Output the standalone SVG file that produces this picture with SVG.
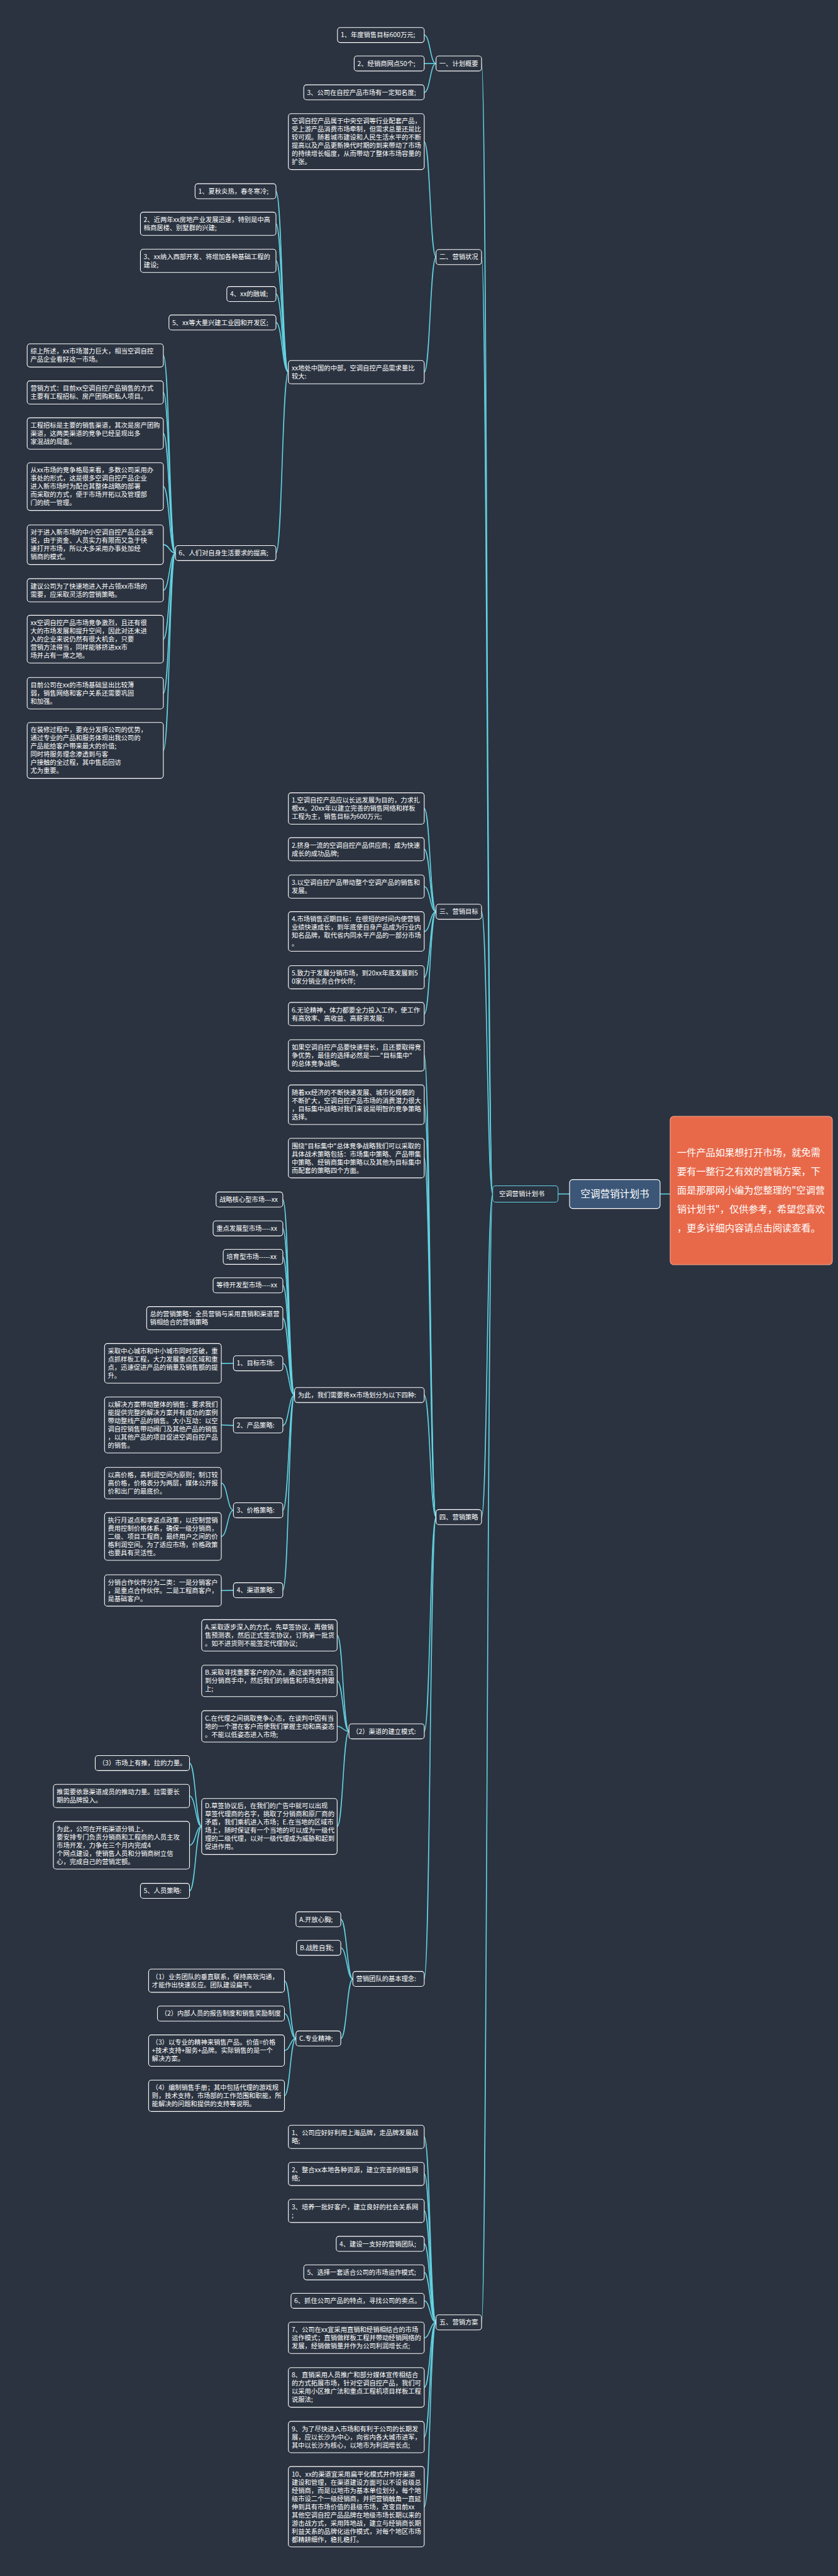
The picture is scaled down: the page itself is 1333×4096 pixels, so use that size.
<svg xmlns="http://www.w3.org/2000/svg" width="1333" height="4096" viewBox="0 0 1333 4096">
<style>
.bg{fill:#2b3340}
.n rect{fill:#2b3340;stroke:#ffffff;stroke-width:1.1}
.n text{fill:#ffffff;font-family:"Noto Sans CJK SC","Noto Sans",sans-serif;font-size:10.3px}
.c path{fill:none;stroke:#62d3e3;stroke-width:1.6}
</style>
<rect class="bg" x="0" y="0" width="1333" height="4096"/>
<g class="c" id="connectors">
<path d="M766,101 C774.9,101 774.9,1898.5 783.7,1898.5"/>
<path d="M766,408.8 C774.9,408.8 774.9,1898.5 783.7,1898.5"/>
<path d="M766,1449.7 C774.9,1449.7 774.9,1898.5 783.7,1898.5"/>
<path d="M766,2412.4 C774.9,2412.4 774.9,1898.5 783.7,1898.5"/>
<path d="M766,3692.8 C774.9,3692.8 774.9,1898.5 783.7,1898.5"/>
<path d="M887.7,1898.5 L906,1898.5"/>
<path d="M1050,1898.5 L1066,1898.5"/>
<path d="M674.8,55.7 C684.2,55.7 684.2,101 693.6,101"/>
<path d="M674.8,101 L693.6,101"/>
<path d="M674.8,146.9 C684.2,146.9 684.2,101 693.6,101"/>
<path d="M674.8,225.5 C684.2,225.5 684.2,408.8 693.6,408.8"/>
<path d="M674.8,591.7 C684.2,591.7 684.2,408.8 693.6,408.8"/>
<path d="M439,304.1 C448.9,304.1 448.9,591.7 458.7,591.7"/>
<path d="M439,355.9 C448.9,355.9 448.9,591.7 458.7,591.7"/>
<path d="M439,414.8 C448.9,414.8 448.9,591.7 458.7,591.7"/>
<path d="M439,467.6 C448.9,467.6 448.9,591.7 458.7,591.7"/>
<path d="M439,512.9 C448.9,512.9 448.9,591.7 458.7,591.7"/>
<path d="M439,879.5 C448.9,879.5 448.9,591.7 458.7,591.7"/>
<path d="M259.8,565.2 C269.5,565.2 269.5,879.5 279.1,879.5"/>
<path d="M259.8,624 C269.5,624 269.5,879.5 279.1,879.5"/>
<path d="M259.8,689.4 C269.5,689.4 269.5,879.5 279.1,879.5"/>
<path d="M259.8,773.7 C269.5,773.7 269.5,879.5 279.1,879.5"/>
<path d="M259.8,866.1 C269.5,866.1 269.5,879.5 279.1,879.5"/>
<path d="M259.8,938.5 C269.5,938.5 269.5,879.5 279.1,879.5"/>
<path d="M259.8,1016.4 C269.5,1016.4 269.5,879.5 279.1,879.5"/>
<path d="M259.8,1102.3 C269.5,1102.3 269.5,879.5 279.1,879.5"/>
<path d="M259.8,1193.1 C269.5,1193.1 269.5,879.5 279.1,879.5"/>
<path d="M674.8,1285.6 C684.2,1285.6 684.2,1449.7 693.6,1449.7"/>
<path d="M674.8,1350.3 C684.2,1350.3 684.2,1449.7 693.6,1449.7"/>
<path d="M674.8,1409.7 C684.2,1409.7 684.2,1449.7 693.6,1449.7"/>
<path d="M674.8,1481.1 C684.2,1481.1 684.2,1449.7 693.6,1449.7"/>
<path d="M674.8,1553.9 C684.2,1553.9 684.2,1449.7 693.6,1449.7"/>
<path d="M674.8,1612.3 C684.2,1612.3 684.2,1449.7 693.6,1449.7"/>
<path d="M674.8,1678.1 C684.2,1678.1 684.2,2412.4 693.6,2412.4"/>
<path d="M674.8,1756.6 C684.2,1756.6 684.2,2412.4 693.6,2412.4"/>
<path d="M674.8,1841.5 C684.2,1841.5 684.2,2412.4 693.6,2412.4"/>
<path d="M674.8,2218.2 C684.2,2218.2 684.2,2412.4 693.6,2412.4"/>
<path d="M674.8,2753 C684.2,2753 684.2,2412.4 693.6,2412.4"/>
<path d="M674.8,3146.6 C684.2,3146.6 684.2,2412.4 693.6,2412.4"/>
<path d="M449.9,1907.4 C459.3,1907.4 459.3,2218.2 468.6,2218.2"/>
<path d="M449.9,1953.2 C459.3,1953.2 459.3,2218.2 468.6,2218.2"/>
<path d="M449.9,1998.5 C459.3,1998.5 459.3,2218.2 468.6,2218.2"/>
<path d="M449.9,2043.8 C459.3,2043.8 459.3,2218.2 468.6,2218.2"/>
<path d="M449.9,2096.1 C459.3,2096.1 459.3,2218.2 468.6,2218.2"/>
<path d="M449.9,2167.7 C459.3,2167.7 459.3,2218.2 468.6,2218.2"/>
<path d="M449.9,2266.6 C459.3,2266.6 459.3,2218.2 468.6,2218.2"/>
<path d="M449.9,2401.5 C459.3,2401.5 459.3,2218.2 468.6,2218.2"/>
<path d="M449.9,2528.6 C459.3,2528.6 459.3,2218.2 468.6,2218.2"/>
<path d="M352,2167.9 L371.3,2167.7"/>
<path d="M352,2265.8 L371.3,2266.6"/>
<path d="M352,2358.3 C361.7,2358.3 361.7,2401.5 371.3,2401.5"/>
<path d="M352,2443.1 C361.7,2443.1 361.7,2401.5 371.3,2401.5"/>
<path d="M352,2529 L371.3,2528.6"/>
<path d="M536.3,2600.3 C545.7,2600.3 545.7,2753 555.1,2753"/>
<path d="M536.3,2672.7 C545.7,2672.7 545.7,2753 555.1,2753"/>
<path d="M536.3,2745 C545.7,2745 545.7,2753 555.1,2753"/>
<path d="M536.3,2904.2 C545.7,2904.2 545.7,2753 555.1,2753"/>
<path d="M301.5,2803.5 C311.2,2803.5 311.2,2904.2 320.8,2904.2"/>
<path d="M301.5,2855.7 C311.2,2855.7 311.2,2904.2 320.8,2904.2"/>
<path d="M301.5,2934 C311.2,2934 311.2,2904.2 320.8,2904.2"/>
<path d="M301.5,3006.6 C311.2,3006.6 311.2,2904.2 320.8,2904.2"/>
<path d="M542.1,3051.9 C551.7,3051.9 551.7,3146.6 561.3,3146.6"/>
<path d="M542.1,3097.2 C551.7,3097.2 551.7,3146.6 561.3,3146.6"/>
<path d="M542.1,3241.4 C551.7,3241.4 551.7,3146.6 561.3,3146.6"/>
<path d="M452.5,3149.5 C461.6,3149.5 461.6,3241.4 470.7,3241.4"/>
<path d="M452.5,3201.8 C461.6,3201.8 461.6,3241.4 470.7,3241.4"/>
<path d="M452.5,3260.5 C461.6,3260.5 461.6,3241.4 470.7,3241.4"/>
<path d="M452.5,3332.4 C461.6,3332.4 461.6,3241.4 470.7,3241.4"/>
<path d="M674.8,3397.7 C684.2,3397.7 684.2,3692.8 693.6,3692.8"/>
<path d="M674.8,3456.6 C684.2,3456.6 684.2,3692.8 693.6,3692.8"/>
<path d="M674.8,3515.4 C684.2,3515.4 684.2,3692.8 693.6,3692.8"/>
<path d="M674.8,3567.9 C684.2,3567.9 684.2,3692.8 693.6,3692.8"/>
<path d="M674.8,3613.2 C684.2,3613.2 684.2,3692.8 693.6,3692.8"/>
<path d="M674.8,3658.5 C684.2,3658.5 684.2,3692.8 693.6,3692.8"/>
<path d="M674.8,3717.2 C684.2,3717.2 684.2,3692.8 693.6,3692.8"/>
<path d="M674.8,3796.2 C684.2,3796.2 684.2,3692.8 693.6,3692.8"/>
<path d="M674.8,3875 C684.2,3875 684.2,3692.8 693.6,3692.8"/>
<path d="M674.8,3985.9 C684.2,3985.9 684.2,3692.8 693.6,3692.8"/>
</g>

<g id="root-left" class="n"><rect x="783.7" y="1885.5" width="104" height="26" rx="4.5" style="stroke:#62d3e3"/><text x="794" y="1902.3">空调营销计划书</text></g>
<g id="root"><rect x="906" y="1875.6" width="144" height="46" rx="5" fill="#3b5677" stroke="#ffffff" stroke-width="1.1"/><text x="978" y="1904" text-anchor="middle" fill="#fff" font-family="Noto Sans CJK SC,sans-serif" font-size="15.6">空调营销计划书</text></g>
<g id="intro"><rect x="1066" y="1775" width="258" height="236" rx="6" fill="#e8694a" stroke="#f3a48f" stroke-width="1.1"/>
<text fill="#fff" font-family="Noto Sans CJK SC,sans-serif" font-size="15.2"><tspan x="1077" y="1838">一件产品如果想打开市场，就免需</tspan><tspan x="1077" y="1868">要有一整行之有效的营销方案，下</tspan><tspan x="1077" y="1898">面是那那网小编为您整理的"空调营</tspan><tspan x="1077" y="1928">销计划书"，仅供参考，希望您喜欢</tspan><tspan x="1077" y="1958">，更多详细内容请点击阅读查看。</tspan></text></g>

<g id="b1" class="n"><rect x="693.6" y="89" width="72.4" height="23.9" rx="4.5"/><text x="698.8" y="104.6">一、计划概要</text></g>
<g id="b1-1" class="n"><rect x="536.8" y="43.7" width="138" height="23.9" rx="4.5"/><text x="542" y="59.3">1、年度销售目标600万元;</text></g>
<g id="b1-2" class="n"><rect x="563.4" y="89" width="111.4" height="23.9" rx="4.5"/><text x="568.6" y="104.6">2、经销商网点50个;</text></g>
<g id="b1-3" class="n"><rect x="483.2" y="134.9" width="191.6" height="23.9" rx="4.5"/><text x="488.4" y="150.5">3、公司在自控产品市场有一定知名度;</text></g>

<g id="b2" class="n"><rect x="693.6" y="396.8" width="72.4" height="23.9" rx="4.5"/><text x="698.8" y="412.4">二、营销状况</text></g>
<g id="b2-1" class="n"><rect x="458.7" y="180.7" width="216.1" height="88.9" rx="4.5"/><text><tspan x="463.9" y="196.3">空调自控产品属于中央空调等行业配套产品，</tspan><tspan x="463.9" y="209.3">受上游产品消费市场牵制，但需求总量还是比</tspan><tspan x="463.9" y="222.3">较可观。随着城市建设和人民生活水平的不断</tspan><tspan x="463.9" y="235.3">提高以及产品更新换代时期的到来带动了市场</tspan><tspan x="463.9" y="248.3">的持续增长幅度，从而带动了整体市场容量的</tspan><tspan x="463.9" y="261.3">扩张。</tspan></text></g>
<g id="b2-2" class="n"><rect x="458.7" y="573.3" width="216.1" height="36.9" rx="4.5"/><text><tspan x="463.9" y="588.9">xx地处中国的中部，空调自控产品需求量比</tspan><tspan x="463.9" y="601.9">较大:</tspan></text></g>
<g id="b2-2-1" class="n"><rect x="310.3" y="292.1" width="128.7" height="23.9" rx="4.5"/><text x="315.5" y="307.7">1、夏秋炎热，春冬寒冷;</text></g>
<g id="b2-2-2" class="n"><rect x="223.4" y="337.4" width="215.6" height="36.9" rx="4.5"/><text><tspan x="228.6" y="353">2、近两年xx房地产业发展迅速，特别是中高</tspan><tspan x="228.6" y="366">档商居楼、别墅群的兴建;</tspan></text></g>
<g id="b2-2-3" class="n"><rect x="223.4" y="396.3" width="215.6" height="36.9" rx="4.5"/><text><tspan x="228.6" y="411.9">3、xx纳入西部开发、将增加各种基础工程的</tspan><tspan x="228.6" y="424.9">建设;</tspan></text></g>
<g id="b2-2-4" class="n"><rect x="360.8" y="455.6" width="78.2" height="23.9" rx="4.5"/><text x="366" y="471.2">4、xx的融城;</text></g>
<g id="b2-2-5" class="n"><rect x="268.7" y="500.9" width="170.3" height="23.9" rx="4.5"/><text x="273.9" y="516.5">5、xx等大量兴建工业园和开发区;</text></g>
<g id="b2-2-6" class="n"><rect x="279.1" y="867.5" width="159.9" height="23.9" rx="4.5"/><text x="284.3" y="883.1">6、人们对自身生活要求的提高;</text></g>
<g id="b2-2-6-1" class="n"><rect x="43.2" y="546.7" width="216.6" height="36.9" rx="4.5"/><text><tspan x="48.4" y="562.3">综上所述，xx市场潜力巨大，相当空调自控</tspan><tspan x="48.4" y="575.3">产品企业看好这一市场。</tspan></text></g>
<g id="b2-2-6-2" class="n"><rect x="43.2" y="605.6" width="216.6" height="36.9" rx="4.5"/><text><tspan x="48.4" y="621.2">营销方式：目前xx空调自控产品销售的方式</tspan><tspan x="48.4" y="634.2">主要有工程招标、房产团购和私人项目。</tspan></text></g>
<g id="b2-2-6-3" class="n"><rect x="43.2" y="664.4" width="216.6" height="49.9" rx="4.5"/><text><tspan x="48.4" y="680">工程招标是主要的销售渠道，其次是房产团购</tspan><tspan x="48.4" y="693">渠道，这两类渠道的竞争已经呈现出多</tspan><tspan x="48.4" y="706">家混战的局面。</tspan></text></g>
<g id="b2-2-6-4" class="n"><rect x="43.2" y="735.7" width="216.6" height="75.9" rx="4.5"/><text><tspan x="48.4" y="751.3">从xx市场的竞争格局来看，多数公司采用办</tspan><tspan x="48.4" y="764.3">事处的形式，这是很多空调自控产品企业</tspan><tspan x="48.4" y="777.3">进入新市场时为配合其整体战略的部署</tspan><tspan x="48.4" y="790.3">而采取的方式，便于市场开拓以及管理部</tspan><tspan x="48.4" y="803.3">门的统一管理。</tspan></text></g>
<g id="b2-2-6-5" class="n"><rect x="43.2" y="834.7" width="216.6" height="62.9" rx="4.5"/><text><tspan x="48.4" y="850.3">对于进入新市场的中小空调自控产品企业来</tspan><tspan x="48.4" y="863.3">说，由于资金、人员实力有限而又急于快</tspan><tspan x="48.4" y="876.3">速打开市场，所以大多采用办事处加经</tspan><tspan x="48.4" y="889.3">销商的模式。</tspan></text></g>
<g id="b2-2-6-6" class="n"><rect x="43.2" y="920.1" width="216.6" height="36.9" rx="4.5"/><text><tspan x="48.4" y="935.7">建议公司为了快速地进入并占领xx市场的</tspan><tspan x="48.4" y="948.7">需要，应采取灵活的营销策略。</tspan></text></g>
<g id="b2-2-6-7" class="n"><rect x="43.2" y="978.4" width="216.6" height="75.9" rx="4.5"/><text><tspan x="48.4" y="994">xx空调自控产品市场竞争激烈，且还有很</tspan><tspan x="48.4" y="1007">大的市场发展和提升空间，因此对还未进</tspan><tspan x="48.4" y="1020">入的企业来说仍然有很大机会，只要</tspan><tspan x="48.4" y="1033">营销方法得当，同样能够挤进xx市</tspan><tspan x="48.4" y="1046">场并占有一席之地。</tspan></text></g>
<g id="b2-2-6-8" class="n"><rect x="43.2" y="1077.3" width="216.6" height="49.9" rx="4.5"/><text><tspan x="48.4" y="1092.9">目前公司在xx的市场基础显出比较薄</tspan><tspan x="48.4" y="1105.9">弱，销售网络和客户关系还需要巩固</tspan><tspan x="48.4" y="1118.9">和加强。</tspan></text></g>
<g id="b2-2-6-9" class="n"><rect x="43.2" y="1148.7" width="216.6" height="88.9" rx="4.5"/><text><tspan x="48.4" y="1164.3">在装修过程中，要充分发挥公司的优势，</tspan><tspan x="48.4" y="1177.3">通过专业的产品和服务体现出我公司的</tspan><tspan x="48.4" y="1190.3">产品能给客户带来最大的价值;</tspan><tspan x="48.4" y="1203.3">同时将服务理念渗透到与客</tspan><tspan x="48.4" y="1216.3">户接触的全过程，其中售后回访</tspan><tspan x="48.4" y="1229.3">尤为重要。</tspan></text></g>

<g id="b3" class="n"><rect x="693.6" y="1437.7" width="72.4" height="23.9" rx="4.5"/><text x="698.8" y="1453.3">三、营销目标</text></g>
<g id="b3-1" class="n"><rect x="458.7" y="1260.6" width="216.1" height="49.9" rx="4.5"/><text><tspan x="463.9" y="1276.2">1.空调自控产品应以长远发展为目的，力求扎</tspan><tspan x="463.9" y="1289.2">根xx。20xx年以建立完善的销售网络和样板</tspan><tspan x="463.9" y="1302.2">工程为主，销售目标为600万元;</tspan></text></g>
<g id="b3-2" class="n"><rect x="458.7" y="1331.9" width="216.1" height="36.9" rx="4.5"/><text><tspan x="463.9" y="1347.5">2.挤身一流的空调自控产品供应商；成为快速</tspan><tspan x="463.9" y="1360.5">成长的成功品牌;</tspan></text></g>
<g id="b3-3" class="n"><rect x="458.7" y="1391.3" width="216.1" height="36.9" rx="4.5"/><text><tspan x="463.9" y="1406.9">3.以空调自控产品带动整个空调产品的销售和</tspan><tspan x="463.9" y="1419.9">发展。</tspan></text></g>
<g id="b3-4" class="n"><rect x="458.7" y="1449.6" width="216.1" height="62.9" rx="4.5"/><text><tspan x="463.9" y="1465.2">4.市场销售近期目标：在很短的时间内使营销</tspan><tspan x="463.9" y="1478.2">业绩快速成长，到年底使自身产品成为行业内</tspan><tspan x="463.9" y="1491.2">知名品牌，取代省内同水平产品的一部分市场</tspan><tspan x="463.9" y="1504.2">。</tspan></text></g>
<g id="b3-5" class="n"><rect x="458.7" y="1535.5" width="216.1" height="36.9" rx="4.5"/><text><tspan x="463.9" y="1551.1">5.致力于发展分销市场，到20xx年底发展到5</tspan><tspan x="463.9" y="1564.1">0家分销业务合作伙伴;</tspan></text></g>
<g id="b3-6" class="n"><rect x="458.7" y="1593.9" width="216.1" height="36.9" rx="4.5"/><text><tspan x="463.9" y="1609.5">6.无论精神，体力都要全力投入工作，使工作</tspan><tspan x="463.9" y="1622.5">有高效率、高收益、高薪资发展;</tspan></text></g>

<g id="b4" class="n"><rect x="693.6" y="2400.4" width="72.4" height="23.9" rx="4.5"/><text x="698.8" y="2416">四、营销策略</text></g>
<g id="b4-1" class="n"><rect x="458.7" y="1653.2" width="216.1" height="49.9" rx="4.5"/><text><tspan x="463.9" y="1668.8">如果空调自控产品要快速增长，且还要取得竞</tspan><tspan x="463.9" y="1681.8">争优势，最佳的选择必然是——"目标集中"</tspan><tspan x="463.9" y="1694.8">的总体竞争战略。</tspan></text></g>
<g id="b4-2" class="n"><rect x="458.7" y="1725.1" width="216.1" height="62.9" rx="4.5"/><text><tspan x="463.9" y="1740.7">随着xx经济的不断快速发展、城市化规模的</tspan><tspan x="463.9" y="1753.7">不断扩大，空调自控产品市场的消费潜力很大</tspan><tspan x="463.9" y="1766.7">，目标集中战略对我们来说是明智的竞争策略</tspan><tspan x="463.9" y="1779.7">选择。</tspan></text></g>
<g id="b4-3" class="n"><rect x="458.7" y="1810" width="216.1" height="62.9" rx="4.5"/><text><tspan x="463.9" y="1825.6">围绕"目标集中"总体竞争战略我们可以采取的</tspan><tspan x="463.9" y="1838.6">具体战术策略包括：市场集中策略、产品带集</tspan><tspan x="463.9" y="1851.6">中策略、经销商集中策略以及其他为目标集中</tspan><tspan x="463.9" y="1864.6">而配套的策略四个方面。</tspan></text></g>
<g id="b4-4" class="n"><rect x="468.6" y="2206.2" width="206.2" height="23.9" rx="4.5"/><text x="473.8" y="2221.8">为此，我们需要将xx市场划分为以下四种:</text></g>
<g id="b4-4-1" class="n"><rect x="343.7" y="1895.4" width="106.2" height="23.9" rx="4.5"/><text x="348.9" y="1911">战略核心型市场---xx</text></g>
<g id="b4-4-2" class="n"><rect x="339" y="1941.2" width="110.9" height="23.9" rx="4.5"/><text x="344.2" y="1956.8">重点发展型市场----xx</text></g>
<g id="b4-4-3" class="n"><rect x="355.1" y="1986.5" width="94.8" height="23.9" rx="4.5"/><text x="360.3" y="2002.1">培育型市场-----xx</text></g>
<g id="b4-4-4" class="n"><rect x="339" y="2031.8" width="110.9" height="23.9" rx="4.5"/><text x="344.2" y="2047.4">等待开发型市场----xx</text></g>
<g id="b4-4-5" class="n"><rect x="233.3" y="2077.6" width="216.6" height="36.9" rx="4.5"/><text><tspan x="238.5" y="2093.2">总的营销策略：全员营销与采用直销和渠道营</tspan><tspan x="238.5" y="2106.2">销相给合的营销策略</tspan></text></g>
<g id="b4-4-6" class="n"><rect x="371.3" y="2155.7" width="78.6" height="23.9" rx="4.5"/><text x="376.5" y="2171.3">1、目标市场:</text></g>
<g id="b4-4-7" class="n"><rect x="371.3" y="2254.6" width="78.6" height="23.9" rx="4.5"/><text x="376.5" y="2270.2">2、产品策略:</text></g>
<g id="b4-4-8" class="n"><rect x="371.3" y="2389.5" width="78.6" height="23.9" rx="4.5"/><text x="376.5" y="2405.1">3、价格策略:</text></g>
<g id="b4-4-9" class="n"><rect x="371.3" y="2516.6" width="78.6" height="23.9" rx="4.5"/><text x="376.5" y="2532.2">4、渠道策略:</text></g>
<g id="b4-4-6-1" class="n"><rect x="166.3" y="2136.4" width="185.7" height="62.9" rx="4.5"/><text><tspan x="171.5" y="2152">采取中心城市和中小城市同时突破，重</tspan><tspan x="171.5" y="2165">点抓样板工程，大力发展重点区域和重</tspan><tspan x="171.5" y="2178">点，迅速促进产品的销量及销售额的提</tspan><tspan x="171.5" y="2191">升。</tspan></text></g>
<g id="b4-4-7-1" class="n"><rect x="166.3" y="2221.3" width="185.7" height="88.9" rx="4.5"/><text><tspan x="171.5" y="2236.9">以解决方案带动整体的销售：要求我们</tspan><tspan x="171.5" y="2249.9">能提供完整的解决方案并有成功的案例</tspan><tspan x="171.5" y="2262.9">带动整线产品的销售。大小互动：以空</tspan><tspan x="171.5" y="2275.9">调自控销售带动阀门及其他产品的销售</tspan><tspan x="171.5" y="2288.9">，以其他产品的项目促进空调自控产品</tspan><tspan x="171.5" y="2301.9">的销售。</tspan></text></g>
<g id="b4-4-8-1" class="n"><rect x="166.3" y="2333.3" width="185.7" height="49.9" rx="4.5"/><text><tspan x="171.5" y="2348.9">以高价格，高利润空间为原则；制订较</tspan><tspan x="171.5" y="2361.9">高价格，价格表分为两层，媒体公开报</tspan><tspan x="171.5" y="2374.9">价和出厂的最底价。</tspan></text></g>
<g id="b4-4-8-2" class="n"><rect x="166.3" y="2405.1" width="185.7" height="75.9" rx="4.5"/><text><tspan x="171.5" y="2420.7">执行月返点和季返点政策，以控制营销</tspan><tspan x="171.5" y="2433.7">费用控制价格体系，确保一级分销商，</tspan><tspan x="171.5" y="2446.7">二级、项目工程商，最终用户之间的价</tspan><tspan x="171.5" y="2459.7">格利润空间。为了适应市场，价格政策</tspan><tspan x="171.5" y="2472.7">也要具有灵活性。</tspan></text></g>
<g id="b4-4-9-1" class="n"><rect x="166.3" y="2504" width="185.7" height="49.9" rx="4.5"/><text><tspan x="171.5" y="2519.6">分销合作伙伴分为二类：一是分销客户</tspan><tspan x="171.5" y="2532.6">，是重点合作伙伴。二是工程商客户，</tspan><tspan x="171.5" y="2545.6">是基础客户。</tspan></text></g>
<g id="b4-5" class="n"><rect x="555.1" y="2741" width="119.8" height="23.9" rx="4.5"/><text x="560.3" y="2756.6">（2）渠道的建立模式:</text></g>
<g id="b4-5-1" class="n"><rect x="320.8" y="2575.4" width="215.5" height="49.9" rx="4.5"/><text><tspan x="326" y="2591">A.采取逐步深入的方式，先草签协议，再做销</tspan><tspan x="326" y="2604">售预测表，然后正式签定协议，订购第一批货</tspan><tspan x="326" y="2617">。如不进货则不能签定代理协议;</tspan></text></g>
<g id="b4-5-2" class="n"><rect x="320.8" y="2647.8" width="215.5" height="49.9" rx="4.5"/><text><tspan x="326" y="2663.4">B.采取寻找重要客户的办法，通过谈判将货压</tspan><tspan x="326" y="2676.4">到分销商手中，然后我们的销售和市场支持跟</tspan><tspan x="326" y="2689.4">上;</tspan></text></g>
<g id="b4-5-3" class="n"><rect x="320.8" y="2720.1" width="215.5" height="49.9" rx="4.5"/><text><tspan x="326" y="2735.7">C.在代理之间挑取竞争心态，在谈判中因有当</tspan><tspan x="326" y="2748.7">地的一个潜在客户而使我们掌握主动和高姿态</tspan><tspan x="326" y="2761.7">。不能以低姿态进入市场;</tspan></text></g>
<g id="b4-5-4" class="n"><rect x="320.8" y="2859.7" width="215.5" height="88.9" rx="4.5"/><text><tspan x="326" y="2875.3">D.草签协议后，在我们的广告中就可以出现</tspan><tspan x="326" y="2888.3">草签代理商的名字，挑取了分销商和原厂商的</tspan><tspan x="326" y="2901.3">矛盾，我们乘机进入市场；E.在当地的区域市</tspan><tspan x="326" y="2914.3">场上，随时保证有一个当地的可以成为一级代</tspan><tspan x="326" y="2927.3">理的二级代理，以对一级代理成为威胁和起到</tspan><tspan x="326" y="2940.3">促进作用。</tspan></text></g>
<g id="b4-5-4-1" class="n"><rect x="151.5" y="2791.5" width="150" height="23.9" rx="4.5"/><text x="156.7" y="2807.1">（3）市场上有推，拉的力量。</text></g>
<g id="b4-5-4-2" class="n"><rect x="84.9" y="2837.3" width="216.6" height="36.9" rx="4.5"/><text><tspan x="90.1" y="2852.9">推需要依靠渠道成员的推动力量。拉需要长</tspan><tspan x="90.1" y="2865.9">期的品牌投入。</tspan></text></g>
<g id="b4-5-4-3" class="n"><rect x="84.9" y="2896.1" width="216.6" height="75.9" rx="4.5"/><text><tspan x="90.1" y="2911.7">为此，公司在开拓渠道分销上，</tspan><tspan x="90.1" y="2924.7">要安排专门负责分销商和工程商的人员主攻</tspan><tspan x="90.1" y="2937.7">市场开发，力争在三个月内完成4</tspan><tspan x="90.1" y="2950.7">个网点建设，使销售人员和分销商树立信</tspan><tspan x="90.1" y="2963.7">心，完成自己的营销定额。</tspan></text></g>
<g id="b4-5-4-4" class="n"><rect x="223.4" y="2994.6" width="78.1" height="23.9" rx="4.5"/><text x="228.6" y="3010.2">5、人员策略:</text></g>
<g id="b4-6" class="n"><rect x="561.3" y="3134.6" width="113.5" height="23.9" rx="4.5"/><text x="566.5" y="3150.2">营销团队的基本理念:</text></g>
<g id="b4-6-1" class="n"><rect x="470.7" y="3039.9" width="71.4" height="23.9" rx="4.5"/><text x="475.9" y="3055.5">A.开放心胸;</text></g>
<g id="b4-6-2" class="n"><rect x="471.7" y="3085.2" width="70.4" height="23.9" rx="4.5"/><text x="476.9" y="3100.8">B.战胜自我;</text></g>
<g id="b4-6-3" class="n"><rect x="470.7" y="3229.4" width="71.4" height="23.9" rx="4.5"/><text x="475.9" y="3245">C.专业精神;</text></g>
<g id="b4-6-3-1" class="n"><rect x="236.4" y="3131" width="216.1" height="36.9" rx="4.5"/><text><tspan x="241.6" y="3146.6">（1）业务团队的垂直联系，保持高效沟通，</tspan><tspan x="241.6" y="3159.6">才能作出快速反应。团队建设扁平。</tspan></text></g>
<g id="b4-6-3-2" class="n"><rect x="250.5" y="3189.8" width="202" height="23.9" rx="4.5"/><text x="255.7" y="3205.4">（2）内部人员的报告制度和销售奖励制度</text></g>
<g id="b4-6-3-3" class="n"><rect x="236.4" y="3235.6" width="216.1" height="49.9" rx="4.5"/><text><tspan x="241.6" y="3251.2">（3）以专业的精神来销售产品。价值=价格</tspan><tspan x="241.6" y="3264.2">+技术支持+服务+品牌。实际销售的是一个</tspan><tspan x="241.6" y="3277.2">解决方案。</tspan></text></g>
<g id="b4-6-3-4" class="n"><rect x="236.4" y="3307.5" width="216.1" height="49.9" rx="4.5"/><text><tspan x="241.6" y="3323.1">（4）编制销售手册；其中包括代理的游戏规</tspan><tspan x="241.6" y="3336.1">则，技术支持，市场部的工作范围和职能，所</tspan><tspan x="241.6" y="3349.1">能解决的问题和提供的支持等说明。</tspan></text></g>

<g id="b5" class="n"><rect x="693.6" y="3680.8" width="72.4" height="23.9" rx="4.5"/><text x="698.8" y="3696.4">五、营销方案</text></g>
<g id="b5-1" class="n"><rect x="458.7" y="3379.3" width="216.1" height="36.9" rx="4.5"/><text><tspan x="463.9" y="3394.9">1、公司应好好利用上海品牌，走品牌发展战</tspan><tspan x="463.9" y="3407.9">略;</tspan></text></g>
<g id="b5-2" class="n"><rect x="458.7" y="3438.2" width="216.1" height="36.9" rx="4.5"/><text><tspan x="463.9" y="3453.8">2、整合xx本地各种资源，建立完善的销售网</tspan><tspan x="463.9" y="3466.8">络;</tspan></text></g>
<g id="b5-3" class="n"><rect x="458.7" y="3497" width="216.1" height="36.9" rx="4.5"/><text><tspan x="463.9" y="3512.6">3、培养一批好客户，建立良好的社会关系网</tspan><tspan x="463.9" y="3525.6">;</tspan></text></g>
<g id="b5-4" class="n"><rect x="534.8" y="3555.9" width="140" height="23.9" rx="4.5"/><text x="540" y="3571.5">4、建设一支好的营销团队;</text></g>
<g id="b5-5" class="n"><rect x="483.2" y="3601.2" width="191.6" height="23.9" rx="4.5"/><text x="488.4" y="3616.8">5、选择一套适合公司的市场运作模式;</text></g>
<g id="b5-6" class="n"><rect x="462.9" y="3646.5" width="211.9" height="23.9" rx="4.5"/><text x="468.1" y="3662.1">6、抓住公司产品的特点，寻找公司的卖点。</text></g>
<g id="b5-7" class="n"><rect x="458.7" y="3692.3" width="216.1" height="49.9" rx="4.5"/><text><tspan x="463.9" y="3707.9">7、公司在xx宜采用直销和经销相结合的市场</tspan><tspan x="463.9" y="3720.9">运作模式；直销做样板工程并带动经销网络的</tspan><tspan x="463.9" y="3733.9">发展，经销做销量并作为公司利润增长点;</tspan></text></g>
<g id="b5-8" class="n"><rect x="458.7" y="3764.7" width="216.1" height="62.9" rx="4.5"/><text><tspan x="463.9" y="3780.3">8、直销采用人员推广和部分媒体宣传相结合</tspan><tspan x="463.9" y="3793.3">的方式拓展市场，针对空调自控产品，我们可</tspan><tspan x="463.9" y="3806.3">以采用小区推广法和重点工程机项目样板工程</tspan><tspan x="463.9" y="3819.3">说服法;</tspan></text></g>
<g id="b5-9" class="n"><rect x="458.7" y="3850.1" width="216.1" height="49.9" rx="4.5"/><text><tspan x="463.9" y="3865.7">9、为了尽快进入市场和有利于公司的长期发</tspan><tspan x="463.9" y="3878.7">展，应以长沙为中心，向省内各大城市进军，</tspan><tspan x="463.9" y="3891.7">其中以长沙为核心，以地市为利润增长点;</tspan></text></g>
<g id="b5-10" class="n"><rect x="458.7" y="3921.9" width="216.1" height="127.9" rx="4.5"/><text><tspan x="463.9" y="3937.5">10、xx的渠道宜采用扁平化模式并作好渠道</tspan><tspan x="463.9" y="3950.5">建设和管理，在渠道建设方面可以不设省级总</tspan><tspan x="463.9" y="3963.5">经销商，而是以地市为基本单位划分，每个地</tspan><tspan x="463.9" y="3976.5">级市设二个一级经销商，并把营销触角一直延</tspan><tspan x="463.9" y="3989.5">伸到具有市场价值的县级市场，改变目前xx</tspan><tspan x="463.9" y="4002.5">其他空调自控产品品牌在地级市场长期以来的</tspan><tspan x="463.9" y="4015.5">游击战方式，采用阵地战，建立与经销商长期</tspan><tspan x="463.9" y="4028.5">利益关系的品牌化运作模式，对每个地区市场</tspan><tspan x="463.9" y="4041.5">都精耕细作，稳扎稳打。</tspan></text></g>
</svg>
